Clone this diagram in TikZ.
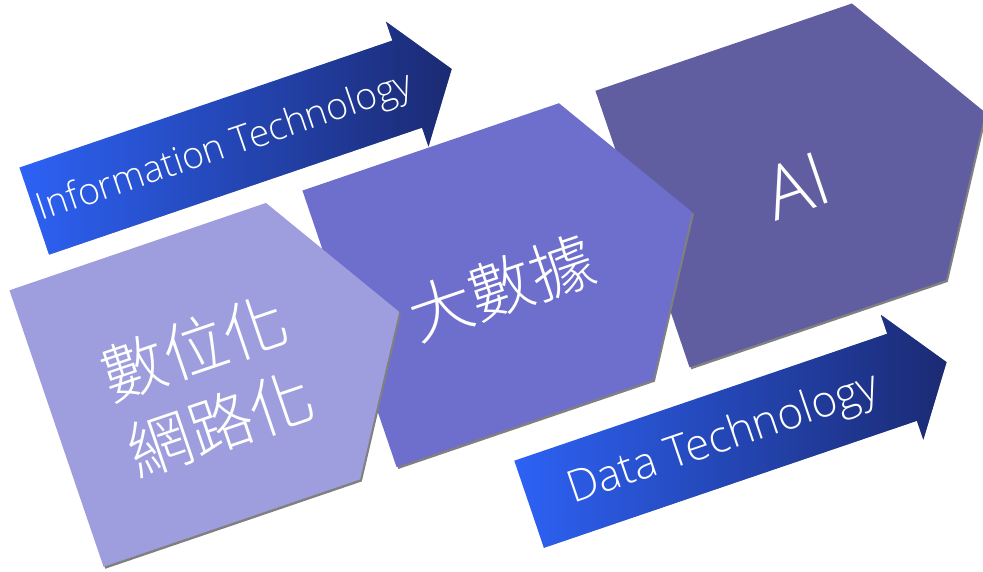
\documentclass[tikz,border=0pt]{standalone}
\usepackage{fontspec}
\setmainfont{Open Sans}[UprightFont={* Light}]
\newfontfamily\cjk[UprightFont={* Light}]{Noto Sans CJK TC}
\definecolor{pA}{RGB}{158,158,222}
\definecolor{pB}{RGB}{110,110,205}
\definecolor{pC}{RGB}{96,94,160}
\definecolor{arL}{RGB}{45,98,245}
\definecolor{arM}{RGB}{38,78,210}
\definecolor{arR}{RGB}{27,42,115}
\definecolor{shd}{RGB}{128,128,128}
\tikzset{
  lbl/.style={text=white, inner sep=0pt, transform shape},
  cjklbl/.style={lbl, align=center, font=\cjk\fontsize{64}{80}\selectfont},
}
\begin{document}
\begin{tikzpicture}[x=1pt,y=-1pt]
\useasboundingbox (0,0) rectangle (983,571);
\begin{scope}[shift={(56.5,428.5)}, rotate=18.8]
  % pentagons, back to front
  \foreach \u/\col in {619/pC, 309.5/pB, 0/pA}{
    \fill[shd] ([shift={(1,2.5)}]\u,-146) -- ++(271,0) -- ++(91,146) -- ++(-91,146) -- ++(-271,0) -- cycle;
    \fill[\col] (\u,-146) -- ++(271,0) -- ++(91,146) -- ++(-91,146) -- ++(-271,0) -- cycle;
  }
  % arrows
  \foreach \au/\av in {49/-213, 423/224}{
    \begin{scope}[shift={(\au,\av)}]
      \fill[shd] ([shift={(1,2.5)}]0,-46) -- (394,-46) -- (394,-66) -- (441,0) -- (394,66) -- (394,46) -- (0,46) -- cycle;
      \shade[left color=arL, middle color=arM, right color=arR] (0,-46) -- (394,-46) -- (394,-66) -- (441,0) -- (394,66) -- (394,46) -- (0,46) -- cycle;
    \end{scope}
  }
  % labels
  \node[lbl, font=\fontsize{37.3}{44}\selectfont] (it) at (49+201,-213+2) {Information Technology};
  \node[lbl, font=\fontsize{44}{52}\selectfont] (dt) at (423+205,224+2) {Data Technology};
  \node[cjklbl] (digi) at (157,8) {數位化\\網路化};
  \node[cjklbl] (big) at (309.5+157,10) {大數據};
  \node[lbl, font=\fontsize{74}{88}\selectfont] (ai) at (619+160,9) {AI};
\end{scope}
\end{tikzpicture}
\end{document}
